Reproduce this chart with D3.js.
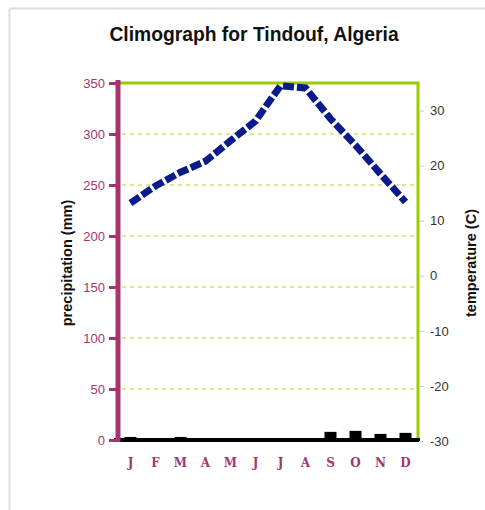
<!DOCTYPE html>
<html><head><meta charset="utf-8">
<script src="https://cdn.jsdelivr.net/npm/d3@7"></script>
<style>body{margin:0;background:#fff}svg{display:block}</style>
</head><body>
<script>
const months = ["J","F","M","A","M","J","J","A","S","O","N","D"];
const precipitation = [2, 0, 2, 0, 0, 0, 0, 0, 7, 8, 5, 6];
const temperature = [13.2, 16.3, 18.8, 20.8, 24.5, 28.1, 34.5, 34.1, 28.5, 23.7, 18.5, 13.4];
const precipTicks = [0, 50, 100, 150, 200, 250, 300, 350];
const tempTicks = [-30, -20, -10, 0, 10, 20, 30];
const gridTicks = [50, 100, 150, 200, 250, 300];

const W = 485, H = 510;
const L = 118, R = 418, T = 83, B = 440;
const purple = "#a8346f", green = "#99cc00";
const sans = "Liberation Sans, Arial, sans-serif";

const svg = d3.select("body").append("svg").attr("width", W).attr("height", H);

// frame
svg.append("line").attr("x1", 9.5).attr("x2", W).attr("y1", 8.5).attr("y2", 8.5).attr("stroke", "#dcdcdc").attr("stroke-width", 2);
svg.append("line").attr("x1", 9.5).attr("x2", 9.5).attr("y1", 8.5).attr("y2", H).attr("stroke", "#dcdcdc").attr("stroke-width", 2);

svg.append("text").attr("x", 254).attr("y", 41).attr("text-anchor", "middle")
  .attr("font-family", sans).attr("font-weight", "bold")
  .attr("font-size", 19.3).attr("fill", "#111").text("Climograph for Tindouf, Algeria");

const x = d3.scaleBand().domain(d3.range(12)).range([L, R]).paddingInner(0);
const yP = d3.scaleLinear().domain([0, 350]).range([B, T]);
const yT = d3.scaleLinear().domain([-30, 35]).range([B + 1, T]);

// grid
svg.append("g").selectAll("line").data(gridTicks).join("line")
  .attr("x1", L + 4).attr("x2", R - 3).attr("y1", d => yP(d)).attr("y2", d => yP(d))
  .attr("stroke", "#cfe070").attr("stroke-width", 1.6).attr("stroke-dasharray", "4,4");

// green top & right
svg.append("line").attr("x1", L).attr("x2", R + 1.5).attr("y1", T).attr("y2", T).attr("stroke", green).attr("stroke-width", 3);
svg.append("line").attr("x1", R).attr("x2", R).attr("y1", T).attr("y2", B + 1).attr("stroke", green).attr("stroke-width", 3);

// precipitation bars
svg.append("g").selectAll("rect").data(precipitation).join("rect")
  .attr("x", (d, i) => x(i) + x.bandwidth() / 2 - 6).attr("width", 12)
  .attr("y", d => yP(d) - 1).attr("height", d => B - yP(d) + 1).attr("fill", "#000");
// baseline
svg.append("line").attr("x1", L - 4).attr("x2", R + 2).attr("y1", B).attr("y2", B).attr("stroke", "#000").attr("stroke-width", 4);

// left axis
const axL = d3.axisLeft(yP).tickValues(precipTicks).tickSize(0).tickPadding(13).tickFormat(d => String(d));
const gL = svg.append("g").attr("transform", `translate(${L},0)`).call(axL);
gL.select(".domain").remove();
gL.selectAll("text").attr("fill", purple).attr("font-size", 13).attr("font-family", sans);
gL.selectAll(".tick").append("line").attr("x1", -9).attr("x2", 0).attr("stroke", purple).attr("stroke-width", 3);
svg.append("line").attr("x1", L).attr("x2", L).attr("y1", T - 3).attr("y2", B + 2).attr("stroke", purple).attr("stroke-width", 5);

// right axis
const axR = d3.axisRight(yT).tickValues(tempTicks).tickSize(0).tickPadding(12).tickFormat(d => String(d));
const gR = svg.append("g").attr("transform", `translate(${R},0)`).call(axR);
gR.select(".domain").remove();
gR.selectAll("text").attr("fill", "#333").attr("font-size", 13).attr("font-family", sans);
gR.selectAll(".tick").append("line").attr("x1", 1).attr("x2", 6).attr("stroke", "#ccc").attr("stroke-width", 1);

// month labels
svg.append("g").selectAll("text").data(months).join("text")
  .attr("x", (d, i) => x(i) + x.bandwidth() / 2).attr("y", 467).attr("text-anchor", "middle")
  .attr("font-family", "DejaVu Serif, Georgia, serif").attr("font-weight", "bold").attr("font-size", 12)
  .attr("fill", purple).text(d => d);

// temperature line
const line = d3.line().x((d, i) => x(i) + x.bandwidth() / 2).y(d => yT(d));
svg.append("path").datum(temperature).attr("d", line).attr("fill", "none")
  .attr("stroke", "#0b1a8c").attr("stroke-width", 7).attr("stroke-dasharray", "11,3");

// axis titles
svg.append("text").attr("transform", "translate(72,263) rotate(-90)").attr("text-anchor", "middle")
  .attr("font-family", sans).attr("font-weight", "bold").attr("font-size", 14.5)
  .attr("fill", "#111").text("precipitation (mm)");
svg.append("text").attr("transform", "translate(476,263) rotate(-90)").attr("text-anchor", "middle")
  .attr("font-family", sans).attr("font-weight", "bold").attr("font-size", 14.5)
  .attr("fill", "#111").text("temperature (C)");
</script>
</body></html>
